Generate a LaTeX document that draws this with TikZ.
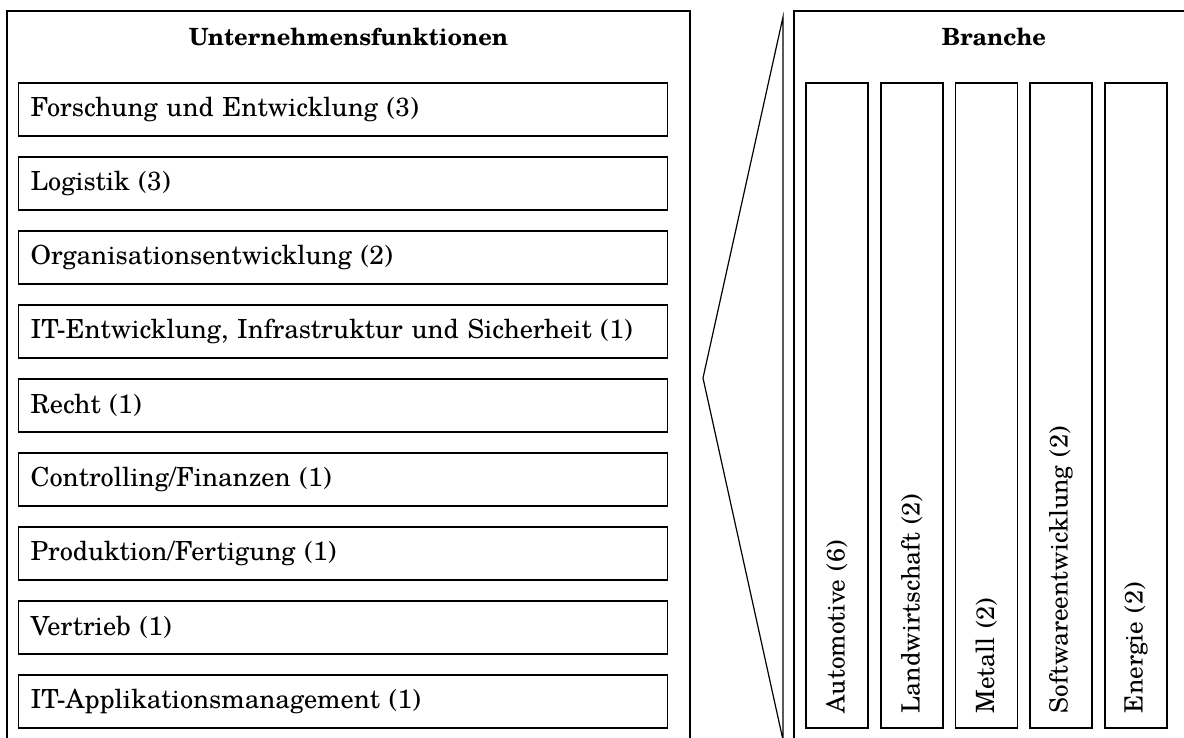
\documentclass[tikz,border=0pt]{standalone}
\usepackage{fontspec}
\setmainfont{texgyreschola}[
  Extension=.otf,
  UprightFont=*-regular,
  BoldFont=*-bold]
\begin{document}
\begin{tikzpicture}[x=1pt,y=-1pt,line width=1.2pt,
  funcbox/.style={font=\fontsize{26.3}{30}\selectfont,draw,anchor=west,
    inner xsep=12pt,inner ysep=0pt,
    text width=625pt,minimum height=53pt,align=left},
  branchbox/.style={font=\fontsize{25.2}{30}\selectfont,draw,rotate=90,
    inner xsep=15pt,inner ysep=0pt,
    text width=615pt,minimum height=62pt,align=left},
  title/.style={font=\fontsize{23.7}{28}\selectfont\bfseries}]
\useasboundingbox (0,0) rectangle (1184,738);
\clip (0,0) rectangle (1184,738);

% outer frames, open at the bottom
\draw (7,760) -- (7,11) -- (690,11) -- (690,760);
\draw (794,760) -- (794,11) -- (1200,11);

% zoom wedge between the two frames
\coordinate (wtop) at (783,17);
\coordinate (wtip) at (703,378);
\coordinate (wbot) at (783,740);
\draw (wbot) -- (wtip) -- (wtop) -- (783,760);

% titles
\node[title] (t1) at (348.5,37) {Unternehmensfunktionen};
\node[title] (t2) at (994,37) {Branche};

% company functions
\node[funcbox] (f1) at (18,109.5) {Forschung und Entwicklung (3)};
\node[funcbox] (f2) at (18,183.5) {Logistik (3)};
\node[funcbox] (f3) at (18,257.5) {Organisationsentwicklung (2)};
\node[funcbox] (f4) at (18,331.5) {IT-Entwicklung, Infrastruktur und Sicherheit (1)};
\node[funcbox] (f5) at (18,405.5) {Recht (1)};
\node[funcbox] (f6) at (18,479.5) {Controlling/Finanzen (1)};
\node[funcbox] (f7) at (18,553.5) {Produktion/Fertigung (1)};
\node[funcbox] (f8) at (18,627.5) {Vertrieb (1)};
\node[funcbox] (f9) at (18,701.5) {IT-Applikationsmanagement (1)};

% industries
\node[branchbox] (b1) at (837,405.5) {Automotive (6)};
\node[branchbox] (b2) at (912,405.5) {Landwirtschaft (2)};
\node[branchbox] (b3) at (986.5,405.5) {Metall (2)};
\node[branchbox] (b4) at (1061,405.5) {Softwareentwicklung (2)};
\node[branchbox] (b5) at (1136,405.5) {Energie (2)};
\end{tikzpicture}
\end{document}
